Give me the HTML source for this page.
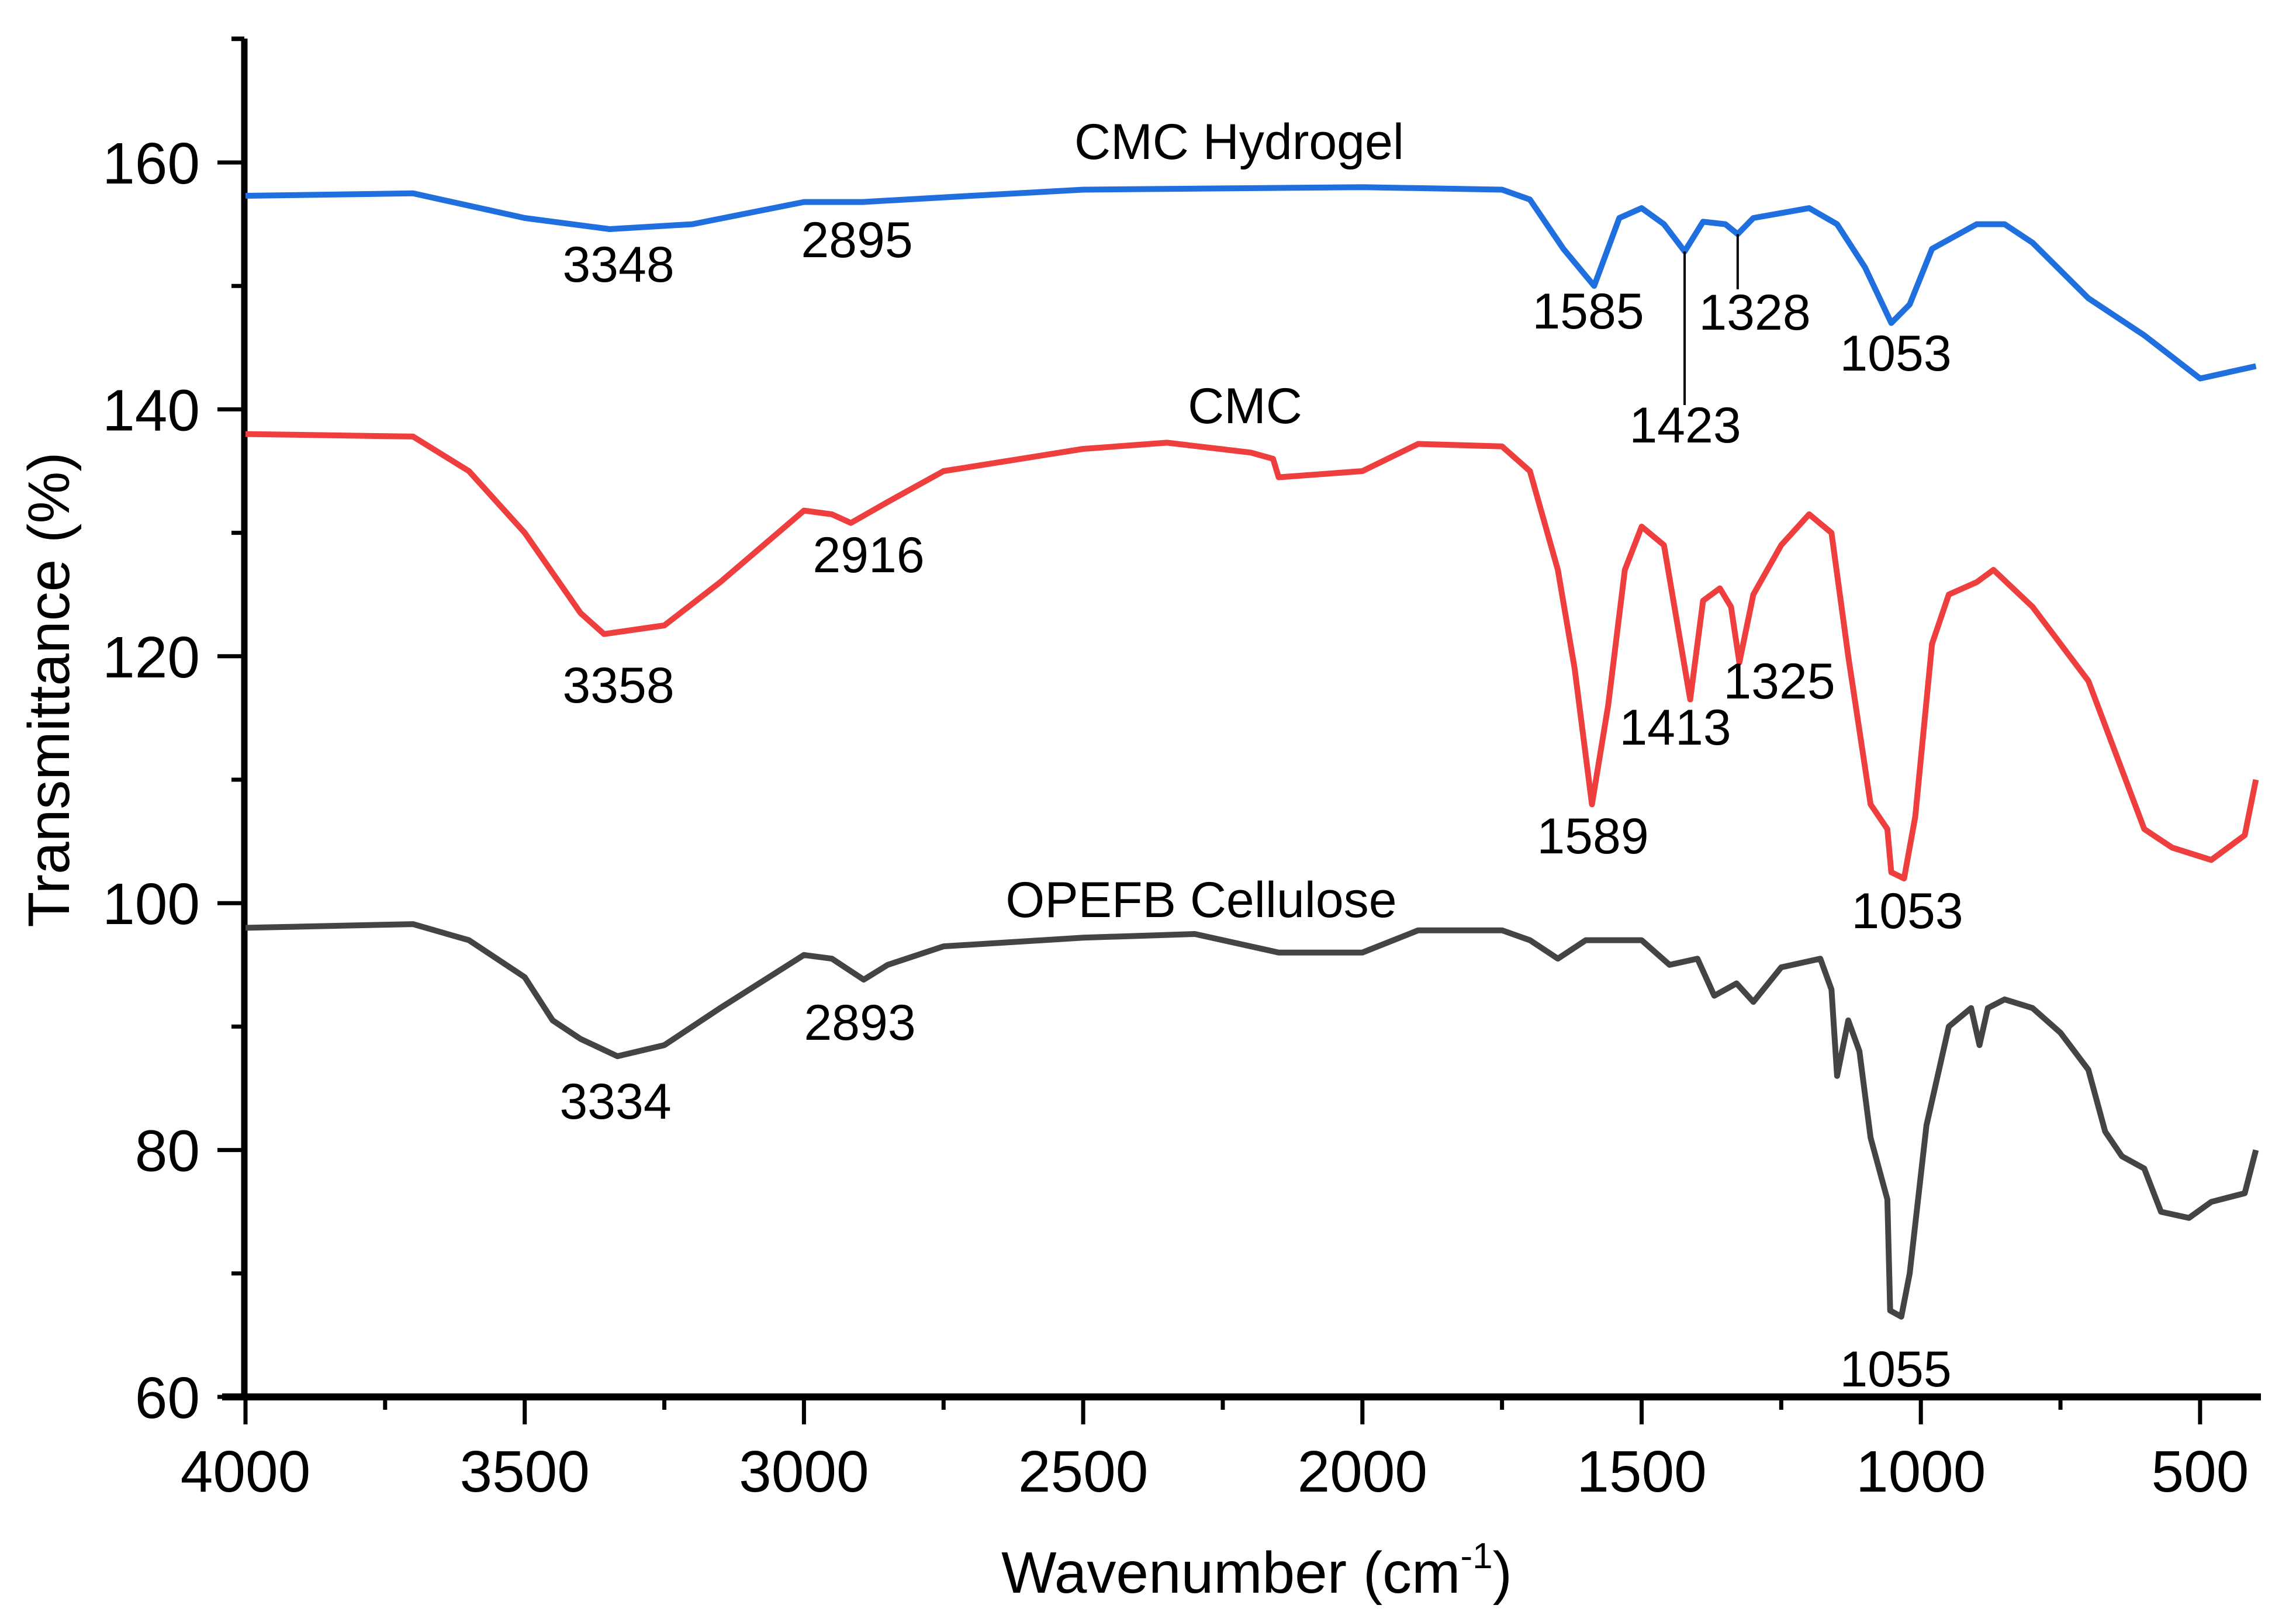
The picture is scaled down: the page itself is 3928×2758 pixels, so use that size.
<!DOCTYPE html>
<html><head><meta charset="utf-8"><style>
html,body{margin:0;padding:0;background:#fff;}
svg{display:block;font-family:"Liberation Sans",Arial,sans-serif;}
</style></head><body>
<svg id="chart" width="3928" height="2758" viewBox="0 0 3928 2758" xmlns="http://www.w3.org/2000/svg">
<g id="axes"></g>
<g id="series"></g>
<g id="annots"></g>
<text x="2150" y="2725" font-size="100" text-anchor="middle">Wavenumber (cm<tspan dy="-42" font-size="62">-1</tspan><tspan dy="42">)</tspan></text>
<text transform="translate(118,1180) rotate(-90)" font-size="100" text-anchor="middle">Transmittance (%)</text>
</svg>
<script>
const xTicks=[4000,3500,3000,2500,2000,1500,1000,500];
const yTicks=[60,80,100,120,140,160];
const hydWn=[4000,3700,3500,3348,3200,3000,2895,2700,2500,2000,1750,1700,1640,1585,1540,1500,1460,1423,1390,1350,1328,1300,1200,1150,1100,1053,1020,980,900,850,800,700,600,500,400];
const hydT=[157.3,157.5,155.5,154.6,155,156.8,156.8,157.3,157.8,158,157.8,157,153,150,155.5,156.3,155,152.8,155.2,155,154.2,155.5,156.3,155,151.5,147,148.5,153,155,155,153.5,149,146,142.5,143.5];
const cmcWn=[4000,3700,3600,3500,3400,3358,3250,3150,3000,2950,2916,2850,2750,2500,2350,2200,2160,2150,2000,1900,1750,1700,1650,1620,1589,1560,1530,1500,1460,1430,1413,1390,1360,1340,1325,1300,1250,1200,1160,1130,1090,1060,1053,1030,1010,980,950,900,870,800,700,650,600,550,480,420,400];
const cmcT=[138,137.8,135,130,123.5,121.8,122.5,126,131.8,131.5,130.8,132.5,135,136.8,137.3,136.5,136,134.5,135,137.2,137,135,127,119,108,116,127,130.5,129,121,116.5,124.5,125.5,124,119.5,125,129,131.5,130,120,108,106,102.5,102,107,121,125,126,127,124,118,112,106,104.5,103.5,105.5,110];
const opWn=[4000,3700,3600,3500,3450,3400,3334,3250,3150,3000,2950,2893,2850,2750,2500,2300,2150,2000,1900,1750,1700,1650,1600,1500,1450,1400,1370,1330,1300,1250,1180,1160,1150,1130,1110,1090,1060,1055,1035,1020,990,950,910,895,880,850,800,750,700,670,640,600,570,520,480,420,400];
const opT=[98,98.3,97,94,90.5,89,87.6,88.5,91.5,95.8,95.5,93.8,95,96.5,97.2,97.5,96,96,97.8,97.8,97,95.5,97,97,95,95.5,92.5,93.5,92,94.8,95.5,93,86,90.5,88,81,76,67,66.5,70,82,90,91.5,88.5,91.5,92.2,91.5,89.5,86.5,81.5,79.5,78.5,75,74.5,75.8,76.5,80];
const labels=[["CMC Hydrogel",2120,272],["3348",1058,482],["2895",1466,440],["1585",2717,562],["1328",3002,564],["1053",3243,634],["1423",2883,757],["CMC",2130,724],["2916",1486,979],["3358",1058,1202],["1413",2866,1274],["1325",3044,1195],["1589",2725,1460],["1053",3263,1588],["OPEFB Cellulose",2055,1569],["2893",1471,1779],["3334",1053,1914],["1055",3243,2372]];
const NS="http://www.w3.org/2000/svg";
const X=w=>420+(4000-w)*0.9554;
const Y=v=>2390-(v-60)*21.12;
function mk(tag,attrs,parent){const e=document.createElementNS(NS,tag);for(const k in attrs)e.setAttribute(k,attrs[k]);parent.appendChild(e);return e;}
const ax=document.getElementById('axes');
let l=mk('line',{x1:418,y1:66,x2:418,y2:2396,stroke:'#000','stroke-width':11},ax);


l=mk('line',{x1:380,y1:2390,x2:3868,y2:2390,stroke:'#000','stroke-width':12},ax);


mk('line',{x1:396,y1:66,x2:418,y2:66,stroke:'#000','stroke-width':7},ax);
for(let w=4000;w>=400;w-=250){const major=w%500===0;const t=mk('line',{x1:X(w),y1:2390,x2:X(w),y2:2390+(major?47:22),stroke:'#000','stroke-width':7},ax);

}
xTicks.forEach(w=>{const t=mk('text',{x:X(w),y:2552,'font-size':100,'text-anchor':'middle'},ax);t.textContent=w;

});
for(let v=60;v<=170;v+=10){const major=v%20===0;const t=mk('line',{x1:418-(major?46:22),y1:Y(v),x2:418,y2:Y(v),stroke:'#000','stroke-width':7},ax);

}
yTicks.forEach(v=>{const t=mk('text',{x:342,y:Y(v)+36,'font-size':100,'text-anchor':'end'},ax);t.textContent=v;

});
const sg=document.getElementById('series');
function line(wn,tv,color,name){const d=wn.map((w,i)=>(i?'L':'M')+X(w).toFixed(1)+' '+Y(tv[i]).toFixed(1)).join(' ');
const p=mk('path',{d:d,fill:'none',stroke:color,'stroke-width':10,'stroke-linejoin':'round'},sg);

}
line(hydWn,hydT,'#1f6fdf','cmc-hydrogel-line');
line(cmcWn,cmcT,'#ee3e3e','cmc-line');
line(opWn,opT,'#444444','opefb-cellulose-line');
const ag=document.getElementById('annots');
labels.forEach(a=>{const t=mk('text',{x:a[1],y:a[2],'font-size':86,'text-anchor':'middle'},ag);t.textContent=a[0];

});
let c=mk('line',{x1:X(1423),y1:Y(152.8),x2:X(1423),y2:693,stroke:'#000','stroke-width':4},ag);


c=mk('line',{x1:X(1328),y1:Y(154.2),x2:X(1328),y2:495,stroke:'#000','stroke-width':4},ag);


</script>
</body></html>
